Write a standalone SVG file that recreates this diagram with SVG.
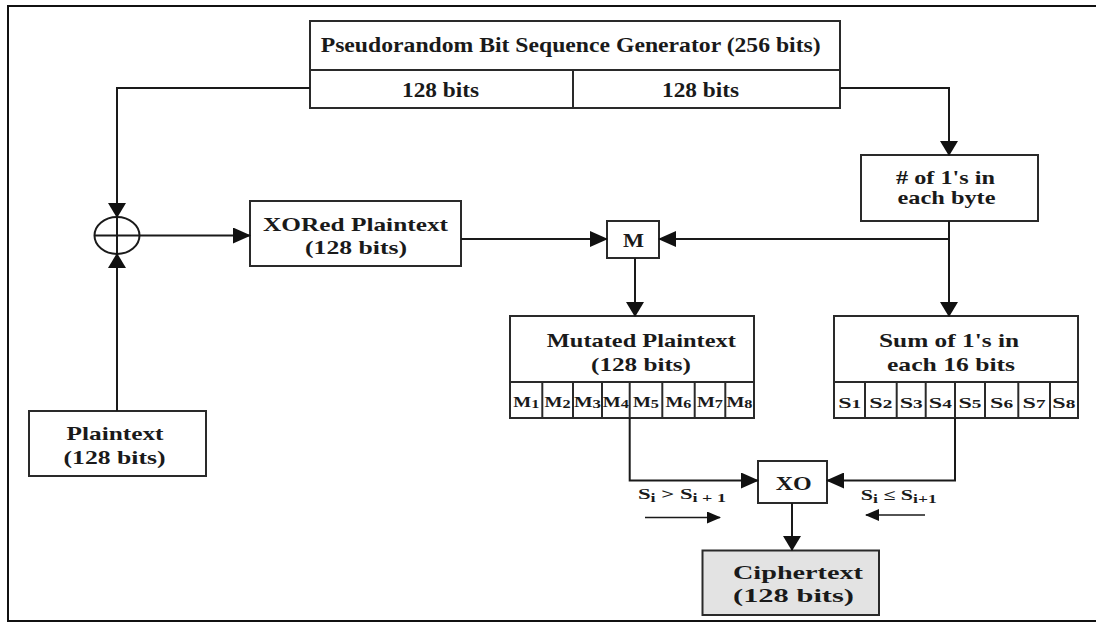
<svg xmlns="http://www.w3.org/2000/svg" width="1100" height="623" viewBox="0 0 1100 623">
<style>
.t{font-family:"Liberation Serif","Times New Roman",serif;font-weight:bold;fill:#1a1a1a;text-anchor:middle}
.box{fill:#fff;stroke:#2a2a2a;stroke-width:2}
.ln{fill:none;stroke:#1a1a1a;stroke-width:2}
.cell{stroke:#2a2a2a;stroke-width:2}
</style>
<defs>
<marker id="ah" markerUnits="userSpaceOnUse" markerWidth="18" markerHeight="16" viewBox="0 0 18 16" refX="17" refY="8" orient="auto"><path d="M0,0 L18,8 L0,16z" fill="#111"/></marker>
<marker id="av" markerUnits="userSpaceOnUse" markerWidth="15" markerHeight="18" viewBox="0 0 15 18" refX="14" refY="9" orient="auto"><path d="M0,0 L15,9 L0,18z" fill="#111"/></marker>
<marker id="as" markerUnits="userSpaceOnUse" markerWidth="14" markerHeight="12" viewBox="0 0 14 12" refX="13" refY="6" orient="auto"><path d="M0,0 L14,6 L0,12z" fill="#111"/></marker>
</defs>
<rect width="1100" height="623" fill="#fff"/>
<path d="M1096,6 H8 V621 H1096" fill="none" stroke="#111" stroke-width="2"/>

<g id="generator">
<rect class="box" x="310" y="21" width="530" height="87"/>
<line class="cell" x1="310" y1="70" x2="840" y2="70"/>
<line class="cell" x1="573" y1="70" x2="573" y2="108"/>
<text class="t" x="570.7" y="51.5" font-size="20" textLength="500" lengthAdjust="spacingAndGlyphs">Pseudorandom Bit Sequence Generator (256 bits)</text>
<text class="t" x="440.5" y="96.5" font-size="21" textLength="77" lengthAdjust="spacingAndGlyphs">128 bits</text>
<text class="t" x="700.5" y="96.5" font-size="21" textLength="77" lengthAdjust="spacingAndGlyphs">128 bits</text>
</g>

<g id="xor">
<ellipse cx="117" cy="235.5" rx="22.5" ry="18.5" fill="#fff" stroke="#1a1a1a" stroke-width="2"/>
<line class="ln" x1="94.5" y1="235.5" x2="139.5" y2="235.5"/>
<line class="ln" x1="117" y1="217" x2="117" y2="254"/>
</g>

<g id="xored-plaintext">
<rect class="box" x="250" y="201" width="211" height="65"/>
<text class="t" x="355.5" y="230.5" font-size="19" textLength="185" lengthAdjust="spacingAndGlyphs">XORed Plaintext</text>
<text class="t" x="356" y="254" font-size="19" textLength="102" lengthAdjust="spacingAndGlyphs">(128 bits)</text>
</g>

<g id="plaintext">
<rect class="box" x="29" y="411" width="177" height="65"/>
<text class="t" x="115" y="439.5" font-size="19" textLength="97" lengthAdjust="spacingAndGlyphs">Plaintext</text>
<text class="t" x="114.5" y="463.5" font-size="19" textLength="102" lengthAdjust="spacingAndGlyphs">(128 bits)</text>
</g>

<g id="m">
<rect class="box" x="607" y="221" width="52" height="37"/>
<text class="t" x="633.5" y="246.5" font-size="19" textLength="21" lengthAdjust="spacingAndGlyphs">M</text>
</g>

<g id="count-ones">
<rect class="box" x="861" y="155" width="177" height="66"/>
<text class="t" x="945.5" y="184" font-size="19" textLength="99" lengthAdjust="spacingAndGlyphs"># of 1's in</text>
<text class="t" x="946.5" y="204" font-size="19" textLength="98" lengthAdjust="spacingAndGlyphs">each byte</text>
</g>

<g id="mutated-plaintext">
<rect class="box" x="510" y="316" width="244" height="102"/>
<line class="cell" x1="510" y1="382" x2="754" y2="382"/>
<line class="cell" x1="542.3" y1="382" x2="542.3" y2="418"/>
<line class="cell" x1="573" y1="382" x2="573" y2="418"/>
<line class="cell" x1="602" y1="382" x2="602" y2="418"/>
<line class="cell" x1="629.7" y1="382" x2="629.7" y2="418"/>
<line class="cell" x1="662.3" y1="382" x2="662.3" y2="418"/>
<line class="cell" x1="694.7" y1="382" x2="694.7" y2="418"/>
<line class="cell" x1="725.3" y1="382" x2="725.3" y2="418"/>
<text class="t" x="641.3" y="346.5" font-size="19" textLength="189" lengthAdjust="spacingAndGlyphs">Mutated Plaintext</text>
<text class="t" x="641" y="370.5" font-size="19" textLength="100" lengthAdjust="spacingAndGlyphs">(128 bits)</text>
<g font-size="14">
<text class="t" x="526.3" y="406.5" textLength="26" lengthAdjust="spacingAndGlyphs">M<tspan font-size="12" dy="1">1</tspan></text>
<text class="t" x="557.6" y="406.5" textLength="26" lengthAdjust="spacingAndGlyphs">M<tspan font-size="12" dy="1">2</tspan></text>
<text class="t" x="587.5" y="406.5" textLength="27" lengthAdjust="spacingAndGlyphs">M<tspan font-size="12" dy="1">3</tspan></text>
<text class="t" x="615.8" y="406.5" textLength="26" lengthAdjust="spacingAndGlyphs">M<tspan font-size="12" dy="1">4</tspan></text>
<text class="t" x="646" y="406.5" textLength="26" lengthAdjust="spacingAndGlyphs">M<tspan font-size="12" dy="1">5</tspan></text>
<text class="t" x="678.5" y="406.5" textLength="26" lengthAdjust="spacingAndGlyphs">M<tspan font-size="12" dy="1">6</tspan></text>
<text class="t" x="710" y="406.5" textLength="26" lengthAdjust="spacingAndGlyphs">M<tspan font-size="12" dy="1">7</tspan></text>
<text class="t" x="739.5" y="406.5" textLength="26" lengthAdjust="spacingAndGlyphs">M<tspan font-size="12" dy="1">8</tspan></text>
</g>
</g>

<g id="sum-ones">
<rect class="box" x="834" y="316" width="244" height="102"/>
<line class="cell" x1="834" y1="382" x2="1078" y2="382"/>
<line class="cell" x1="865" y1="382" x2="865" y2="418"/>
<line class="cell" x1="896.7" y1="382" x2="896.7" y2="418"/>
<line class="cell" x1="925.7" y1="382" x2="925.7" y2="418"/>
<line class="cell" x1="955" y1="382" x2="955" y2="418"/>
<line class="cell" x1="985" y1="382" x2="985" y2="418"/>
<line class="cell" x1="1018.3" y1="382" x2="1018.3" y2="418"/>
<line class="cell" x1="1050" y1="382" x2="1050" y2="418"/>
<text class="t" x="949" y="346.5" font-size="19" textLength="140" lengthAdjust="spacingAndGlyphs">Sum of 1's in</text>
<text class="t" x="951" y="370.5" font-size="19" textLength="128" lengthAdjust="spacingAndGlyphs">each 16 bits</text>
<g font-size="15">
<text class="t" x="849.7" y="408" textLength="23" lengthAdjust="spacingAndGlyphs">S<tspan font-size="12">1</tspan></text>
<text class="t" x="880.8" y="408" textLength="23" lengthAdjust="spacingAndGlyphs">S<tspan font-size="12">2</tspan></text>
<text class="t" x="911.2" y="408" textLength="23" lengthAdjust="spacingAndGlyphs">S<tspan font-size="12">3</tspan></text>
<text class="t" x="940.3" y="408" textLength="23" lengthAdjust="spacingAndGlyphs">S<tspan font-size="12">4</tspan></text>
<text class="t" x="970" y="408" textLength="23" lengthAdjust="spacingAndGlyphs">S<tspan font-size="12">5</tspan></text>
<text class="t" x="1001.6" y="408" textLength="23" lengthAdjust="spacingAndGlyphs">S<tspan font-size="12">6</tspan></text>
<text class="t" x="1034.1" y="408" textLength="23" lengthAdjust="spacingAndGlyphs">S<tspan font-size="12">7</tspan></text>
<text class="t" x="1063.8" y="408" textLength="23" lengthAdjust="spacingAndGlyphs">S<tspan font-size="12">8</tspan></text>
</g>
</g>

<g id="xo">
<rect class="box" x="758" y="461" width="69" height="42"/>
<text class="t" x="793.7" y="490" font-size="19" textLength="36" lengthAdjust="spacingAndGlyphs">XO</text>
</g>

<g id="ciphertext">
<rect x="702.5" y="550.5" width="176.5" height="64.5" fill="#e3e3e3" stroke="#2a2a2a" stroke-width="2"/>
<text class="t" x="798" y="579" font-size="19" textLength="130" lengthAdjust="spacingAndGlyphs">Ciphertext</text>
<text class="t" x="793.5" y="601.5" font-size="19" textLength="121" lengthAdjust="spacingAndGlyphs">(128 bits)</text>
</g>

<g id="connectors">
<path class="ln" d="M310,88 H117 V217" marker-end="url(#av)"/>
<path class="ln" d="M117,411 V254" marker-end="url(#av)"/>
<path class="ln" d="M139.5,235.5 H250" marker-end="url(#ah)"/>
<path class="ln" d="M461,239 H607" marker-end="url(#ah)"/>
<path class="ln" d="M840,88 H949 V155" marker-end="url(#av)"/>
<path class="ln" d="M949,221 V316" marker-end="url(#av)"/>
<path class="ln" d="M949,239 H659" marker-end="url(#ah)"/>
<path class="ln" d="M635,258 V316" marker-end="url(#av)"/>
<path class="ln" d="M629.7,418 V480.5 H758" marker-end="url(#ah)"/>
<path class="ln" d="M955,418 V480.5 H827" marker-end="url(#ah)"/>
<path class="ln" d="M792,503 V550" marker-end="url(#av)"/>
<path d="M645,517.5 H720" fill="none" stroke="#1a1a1a" stroke-width="1.5" marker-end="url(#as)"/>
<path d="M925,515 H866" fill="none" stroke="#1a1a1a" stroke-width="1.5" marker-end="url(#as)"/>
</g>

<g id="labels" font-size="15">
<text class="t" x="682" y="499" textLength="88" lengthAdjust="spacingAndGlyphs">S<tspan font-size="12" dy="3">i</tspan><tspan dy="-3"> &gt; S</tspan><tspan font-size="12" dy="3">i + 1</tspan></text>
<text class="t" x="898.7" y="500" textLength="76" lengthAdjust="spacingAndGlyphs">S<tspan font-size="12" dy="3">i</tspan><tspan dy="-3"> ≤ S</tspan><tspan font-size="12" dy="3">i+1</tspan></text>
</g>
</svg>
